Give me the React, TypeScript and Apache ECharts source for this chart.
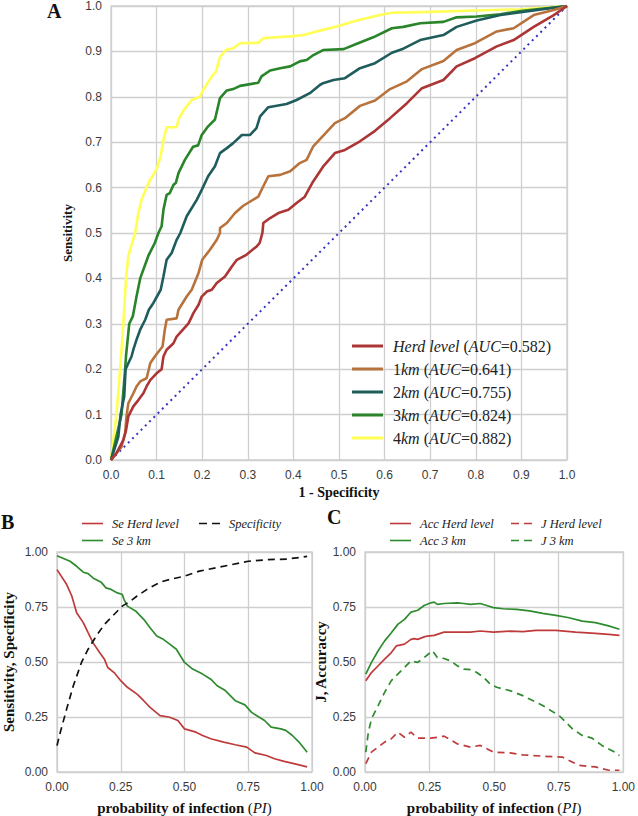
import React, { useEffect, useRef } from "react";
import * as echarts from "echarts";

// ---------- Panel A: ROC curves (1 - specificity, sensitivity) ----------
const rocNames = ["Herd level", "1km", "2km", "3km", "4km"];
const rocAuc = ["0.582", "0.641", "0.755", "0.824", "0.882"];

const rocHerd = [[0,0],[0.012,0.015],[0.027,0.044],[0.033,0.066],[0.038,0.096],[0.049,0.118],[0.06,0.132],[0.071,0.147],[0.078,0.162],[0.086,0.176],[0.1,0.191],[0.111,0.2],[0.115,0.228],[0.122,0.243],[0.137,0.257],[0.144,0.272],[0.17,0.301],[0.181,0.324],[0.192,0.342],[0.199,0.36],[0.21,0.371],[0.221,0.375],[0.232,0.39],[0.25,0.404],[0.265,0.426],[0.276,0.441],[0.297,0.452],[0.32,0.471],[0.326,0.478],[0.332,0.5],[0.334,0.522],[0.349,0.533],[0.367,0.544],[0.389,0.551],[0.407,0.566],[0.425,0.58],[0.443,0.613],[0.465,0.646],[0.491,0.676],[0.513,0.683],[0.546,0.702],[0.579,0.725],[0.612,0.753],[0.649,0.786],[0.682,0.819],[0.729,0.837],[0.758,0.867],[0.798,0.885],[0.846,0.911],[0.883,0.925],[0.927,0.954],[0.971,0.98],[1,1]];
const roc1km = [[0,0],[0.023,0.029],[0.031,0.059],[0.034,0.096],[0.038,0.125],[0.049,0.147],[0.056,0.162],[0.064,0.173],[0.078,0.18],[0.083,0.2],[0.086,0.213],[0.096,0.228],[0.113,0.25],[0.118,0.287],[0.122,0.309],[0.144,0.312],[0.148,0.331],[0.166,0.36],[0.177,0.375],[0.192,0.412],[0.2,0.441],[0.217,0.463],[0.232,0.485],[0.239,0.5],[0.239,0.511],[0.254,0.522],[0.272,0.544],[0.29,0.56],[0.323,0.58],[0.334,0.603],[0.345,0.625],[0.371,0.628],[0.393,0.636],[0.414,0.654],[0.429,0.661],[0.443,0.69],[0.465,0.714],[0.491,0.742],[0.513,0.753],[0.546,0.78],[0.579,0.792],[0.612,0.817],[0.649,0.834],[0.682,0.861],[0.729,0.879],[0.758,0.903],[0.798,0.918],[0.846,0.944],[0.883,0.951],[0.927,0.98],[0.971,0.991],[1,1]];
const roc2km = [[0,0],[0.016,0.051],[0.021,0.1],[0.029,0.14],[0.032,0.2],[0.038,0.213],[0.045,0.228],[0.049,0.243],[0.056,0.265],[0.064,0.287],[0.075,0.309],[0.083,0.331],[0.093,0.346],[0.109,0.375],[0.115,0.404],[0.122,0.441],[0.133,0.456],[0.144,0.485],[0.152,0.5],[0.166,0.537],[0.188,0.573],[0.199,0.595],[0.213,0.625],[0.228,0.647],[0.239,0.676],[0.254,0.687],[0.268,0.698],[0.287,0.716],[0.305,0.716],[0.319,0.731],[0.327,0.757],[0.345,0.777],[0.385,0.784],[0.407,0.793],[0.436,0.808],[0.458,0.826],[0.465,0.83],[0.488,0.837],[0.513,0.841],[0.546,0.863],[0.579,0.874],[0.616,0.897],[0.641,0.906],[0.678,0.925],[0.729,0.936],[0.758,0.954],[0.802,0.968],[0.854,0.98],[1,1]];
const roc3km = [[0,0],[0.023,0.1],[0.031,0.2],[0.033,0.23],[0.04,0.3],[0.048,0.317],[0.056,0.36],[0.064,0.4],[0.082,0.45],[0.096,0.478],[0.104,0.5],[0.111,0.515],[0.115,0.551],[0.122,0.584],[0.129,0.588],[0.137,0.606],[0.142,0.61],[0.148,0.632],[0.162,0.661],[0.18,0.69],[0.191,0.693],[0.199,0.716],[0.213,0.735],[0.228,0.75],[0.239,0.797],[0.254,0.814],[0.268,0.817],[0.283,0.824],[0.323,0.831],[0.33,0.845],[0.349,0.858],[0.371,0.863],[0.393,0.867],[0.414,0.878],[0.429,0.881],[0.444,0.892],[0.465,0.903],[0.51,0.905],[0.542,0.918],[0.575,0.931],[0.616,0.951],[0.641,0.954],[0.678,0.962],[0.729,0.965],[0.758,0.975],[0.802,0.977],[0.854,0.982],[0.898,0.989],[1,1]];
const roc4km = [[0,0],[0.012,0.1],[0.02,0.2],[0.027,0.3],[0.033,0.4],[0.038,0.45],[0.053,0.5],[0.06,0.544],[0.067,0.573],[0.078,0.6],[0.086,0.617],[0.1,0.64],[0.109,0.67],[0.115,0.705],[0.122,0.733],[0.144,0.733],[0.148,0.75],[0.159,0.77],[0.177,0.793],[0.195,0.8],[0.202,0.815],[0.221,0.845],[0.23,0.855],[0.239,0.888],[0.252,0.903],[0.268,0.907],[0.283,0.918],[0.323,0.919],[0.334,0.929],[0.393,0.933],[0.422,0.936],[0.447,0.943],[0.495,0.955],[0.539,0.968],[0.59,0.98],[0.616,0.985],[0.7,0.987],[0.8,0.99],[0.9,0.993],[1,1]];
const rocChance = [[0,0],[1,1]];

// ---------- Panel B: sensitivity / specificity vs PI ----------
const seHerd = [[0,0.92],[0.038,0.852],[0.058,0.8],[0.077,0.724],[0.103,0.679],[0.122,0.633],[0.141,0.588],[0.167,0.543],[0.186,0.513],[0.199,0.475],[0.224,0.452],[0.25,0.415],[0.276,0.385],[0.314,0.354],[0.34,0.324],[0.365,0.294],[0.404,0.256],[0.442,0.249],[0.474,0.234],[0.5,0.196],[0.545,0.181],[0.571,0.166],[0.603,0.151],[0.654,0.136],[0.699,0.124],[0.744,0.113],[0.776,0.087],[0.821,0.075],[0.853,0.06],[0.891,0.048],[0.929,0.038],[0.981,0.023]];
const se3km = [[0,0.983],[0.051,0.958],[0.077,0.935],[0.103,0.908],[0.122,0.902],[0.141,0.882],[0.173,0.863],[0.192,0.837],[0.212,0.83],[0.237,0.814],[0.256,0.807],[0.263,0.784],[0.276,0.754],[0.308,0.732],[0.34,0.694],[0.365,0.656],[0.391,0.618],[0.417,0.603],[0.442,0.581],[0.468,0.558],[0.5,0.498],[0.532,0.468],[0.571,0.445],[0.603,0.422],[0.628,0.392],[0.66,0.37],[0.699,0.324],[0.737,0.305],[0.763,0.271],[0.814,0.234],[0.84,0.204],[0.878,0.196],[0.897,0.189],[0.923,0.166],[0.949,0.136],[0.981,0.09]];
const specificity = [[0,0.12],[0.013,0.181],[0.038,0.287],[0.064,0.392],[0.096,0.498],[0.122,0.558],[0.154,0.618],[0.186,0.671],[0.218,0.709],[0.256,0.754],[0.288,0.777],[0.314,0.8],[0.353,0.83],[0.404,0.863],[0.442,0.875],[0.5,0.89],[0.558,0.913],[0.622,0.928],[0.686,0.943],[0.75,0.958],[0.827,0.965],[0.904,0.968],[0.981,0.98]];

// ---------- Panel C: accuracy and Youden's J vs PI ----------
const accHerd = [[0.003,0.415],[0.025,0.452],[0.051,0.483],[0.076,0.513],[0.102,0.543],[0.121,0.573],[0.153,0.581],[0.178,0.603],[0.191,0.606],[0.204,0.603],[0.229,0.614],[0.242,0.618],[0.268,0.621],[0.306,0.636],[0.357,0.636],[0.408,0.636],[0.446,0.641],[0.497,0.636],[0.561,0.64],[0.611,0.638],[0.662,0.644],[0.739,0.644],[0.815,0.636],[0.892,0.63],[0.943,0.626],[0.985,0.621]];
const acc3km = [[0.003,0.445],[0.025,0.498],[0.051,0.551],[0.076,0.596],[0.102,0.633],[0.127,0.671],[0.153,0.694],[0.178,0.727],[0.204,0.735],[0.229,0.757],[0.255,0.769],[0.268,0.772],[0.28,0.762],[0.306,0.766],[0.357,0.769],[0.382,0.766],[0.408,0.762],[0.446,0.766],[0.471,0.757],[0.497,0.747],[0.535,0.742],[0.586,0.739],[0.637,0.732],[0.688,0.721],[0.739,0.712],[0.79,0.701],[0.841,0.686],[0.892,0.679],[0.943,0.664],[0.985,0.649]];
const jHerd = [[0.003,0.038],[0.025,0.09],[0.076,0.136],[0.102,0.151],[0.127,0.181],[0.153,0.158],[0.178,0.181],[0.204,0.154],[0.255,0.154],[0.28,0.158],[0.306,0.163],[0.357,0.128],[0.408,0.113],[0.446,0.121],[0.497,0.09],[0.561,0.087],[0.611,0.078],[0.688,0.072],[0.764,0.068],[0.828,0.03],[0.892,0.023],[0.943,0.008],[0.985,0.008]];
const j3km = [[0.003,0.09],[0.013,0.181],[0.025,0.241],[0.051,0.302],[0.076,0.362],[0.102,0.415],[0.127,0.445],[0.153,0.475],[0.178,0.505],[0.204,0.498],[0.229,0.52],[0.261,0.551],[0.28,0.52],[0.306,0.516],[0.331,0.505],[0.357,0.483],[0.382,0.468],[0.408,0.465],[0.433,0.452],[0.459,0.43],[0.484,0.4],[0.51,0.385],[0.561,0.37],[0.611,0.347],[0.637,0.332],[0.688,0.302],[0.752,0.256],[0.803,0.196],[0.841,0.166],[0.879,0.154],[0.917,0.121],[0.968,0.09],[0.985,0.075]];

const rocColors = ["#ac3535", "#b8733d", "#1f5d5c", "#2a842a", "#ffff55"];
const RED = "#bf3b3b";
const GREEN = "#2e8b2e";

const SANS = "Liberation Sans";
const SERIF = "Liberation Serif";

const SOLID_ICON = "rect";
const DASH_ICON = "path://M0,0H8V1H0Z M13,0H21V1H13Z";

function valueAxis(gridIndex: number, interval: number, digits: number, extra: any) {
  return {
    type: "value",
    gridIndex,
    min: 0,
    max: 1,
    interval,
    axisLine: { show: false },
    axisTick: { show: false },
    splitLine: { show: true, lineStyle: { color: "#cfcfcf", width: 1.3 } },
    axisLabel: {
      formatter: (v: number) => v.toFixed(digits),
      fontFamily: SANS,
      fontSize: 12,
      color: "#3a3a3a",
      margin: 9,
    },
    nameLocation: "middle",
    nameTextStyle: { fontFamily: SERIF, fontWeight: "bold", fontSize: 14, color: "#111" },
    ...extra,
  };
}

const piName = "{b|probability of infection} {r|(}{i|PI}{r|)}";
const piRich = {
  b: { fontFamily: SERIF, fontWeight: "bold", fontSize: 15, color: "#111" },
  r: { fontFamily: SERIF, fontSize: 15, color: "#111" },
  i: { fontFamily: SERIF, fontStyle: "italic", fontSize: 15, color: "#111" },
};

export default function App() {
  const ref = useRef<HTMLDivElement>(null);
  useEffect(() => {
    if (!ref.current) return;
    const chart = echarts.init(ref.current, null, { renderer: "svg" });

    const smallLegend = (left: number, items: { name: string; icon: string }[]) => ({
      data: items,
      orient: "vertical",
      left,
      top: 517,
      padding: 0,
      itemWidth: 21,
      itemHeight: 1.6,
      itemGap: 4,
      symbolKeepAspect: false,
      selectedMode: false,
      textStyle: {
        fontFamily: SERIF,
        fontStyle: "italic",
        fontSize: 12.5,
        lineHeight: 12,
        color: "#222",
        padding: [0, 0, 0, 4],
      },
    });

    const rocSeries = [rocHerd, roc1km, roc2km, roc3km, roc4km].map((d, i) => ({
      name: rocNames[i],
      type: "line",
      xAxisIndex: 0,
      yAxisIndex: 0,
      data: d,
      symbol: "none",
      lineStyle: { color: rocColors[i], width: 2.6 },
      itemStyle: { color: rocColors[i], borderWidth: 0 },
      z: 3 + (4 - i),
    }));

    const thin = (name: string, data: number[][], color: string, dashed: boolean, gi: number) => ({
      name,
      type: "line",
      xAxisIndex: gi,
      yAxisIndex: gi,
      data,
      symbol: "none",
      lineStyle: { color, width: 1.7, type: dashed ? [7, 5] : "solid" },
      itemStyle: { color, borderWidth: 0 },
    });

    chart.setOption({
      animation: false,
      backgroundColor: "#ffffff",
      grid: [
        { left: 111, top: 6, width: 456, height: 454, show: true, borderColor: "#cfcfcf", borderWidth: 1.3 },
        { left: 52, top: 552, width: 260, height: 221, show: true, borderColor: "#cfcfcf", borderWidth: 1.3 },
        { left: 365, top: 552, width: 262, height: 221, show: true, borderColor: "#cfcfcf", borderWidth: 1.3 },
      ],
      xAxis: [
        valueAxis(0, 0.1, 1, { name: "1 - Specificity", nameGap: 25 }),
        valueAxis(1, 0.25, 2, { name: piName, nameGap: 28, nameTextStyle: { rich: piRich } }),
        valueAxis(2, 0.25, 2, { name: piName, nameGap: 28, nameTextStyle: { rich: piRich } }),
      ],
      yAxis: [
        valueAxis(0, 0.1, 1, { name: "Sensitivity", nameGap: 26, nameTextStyle: { fontFamily: SERIF, fontWeight: "bold", fontSize: 13, color: "#111" } }),
        valueAxis(1, 0.25, 2, { name: "Sensitivity, Specificity", nameGap: 41, nameTextStyle: { fontFamily: SERIF, fontWeight: "bold", fontSize: 15, color: "#111" } }),
        valueAxis(2, 0.25, 2, { name: "J, Accuraccy", nameGap: 28, nameTextStyle: { fontFamily: SERIF, fontWeight: "bold", fontSize: 15, color: "#111" } }),
      ],
      legend: [
        {
          data: rocNames.map((n) => ({ name: n, icon: SOLID_ICON })),
          orient: "vertical",
          left: 352,
          top: 338,
          padding: 0,
          itemWidth: 31,
          itemHeight: 3,
          itemGap: 7,
          symbolKeepAspect: false,
          selectedMode: false,
          formatter: (name: string) => {
            const i = rocNames.indexOf(name);
            const label = name === "Herd level" ? "{i|Herd level}" : name.replace("km", "{i|km}");
            return `${label} ({i|AUC}=${rocAuc[i]})`;
          },
          textStyle: {
            fontFamily: SERIF,
            fontSize: 16,
            lineHeight: 16,
            color: "#222",
            padding: [0, 0, 0, 5],
            rich: { i: { fontFamily: SERIF, fontStyle: "italic", fontSize: 16, lineHeight: 16, color: "#222" } },
          },
        },
        smallLegend(82, [{ name: "Se Herd level", icon: SOLID_ICON }, { name: "Se 3 km", icon: SOLID_ICON }]),
        smallLegend(199, [{ name: "Specificity", icon: DASH_ICON }]),
        smallLegend(390, [{ name: "Acc Herd level", icon: SOLID_ICON }, { name: "Acc 3 km", icon: SOLID_ICON }]),
        smallLegend(511, [{ name: "J Herd level", icon: DASH_ICON }, { name: "J 3 km", icon: DASH_ICON }]),
      ],
      graphic: [
        { type: "text", left: 47, top: 1, style: { text: "A", fontFamily: SERIF, fontWeight: "bold", fontSize: 20, fill: "#111" } },
        { type: "text", left: 1, top: 512, style: { text: "B", fontFamily: SERIF, fontWeight: "bold", fontSize: 20, fill: "#111" } },
        { type: "text", left: 327, top: 507, style: { text: "C", fontFamily: SERIF, fontWeight: "bold", fontSize: 20, fill: "#111" } },
      ],
      series: [
        ...rocSeries,
        {
          name: "chance",
          type: "line",
          xAxisIndex: 0,
          yAxisIndex: 0,
          data: rocChance,
          symbol: "none",
          lineStyle: { color: "#3434c8", width: 2, type: [2, 4] },
          z: 2,
        },
        thin("Se Herd level", seHerd, RED, false, 1),
        thin("Se 3 km", se3km, GREEN, false, 1),
        thin("Specificity", specificity, "#111111", true, 1),
        thin("Acc Herd level", accHerd, RED, false, 2),
        thin("Acc 3 km", acc3km, GREEN, false, 2),
        thin("J Herd level", jHerd, RED, true, 2),
        thin("J 3 km", j3km, GREEN, true, 2),
      ],
    });
    return () => chart.dispose();
  }, []);
  return (
    <div
      ref={ref}
      style={{ position: "fixed", left: 0, top: 0, width: 638, height: 816, background: "#fff" }}
    />
  );
}
